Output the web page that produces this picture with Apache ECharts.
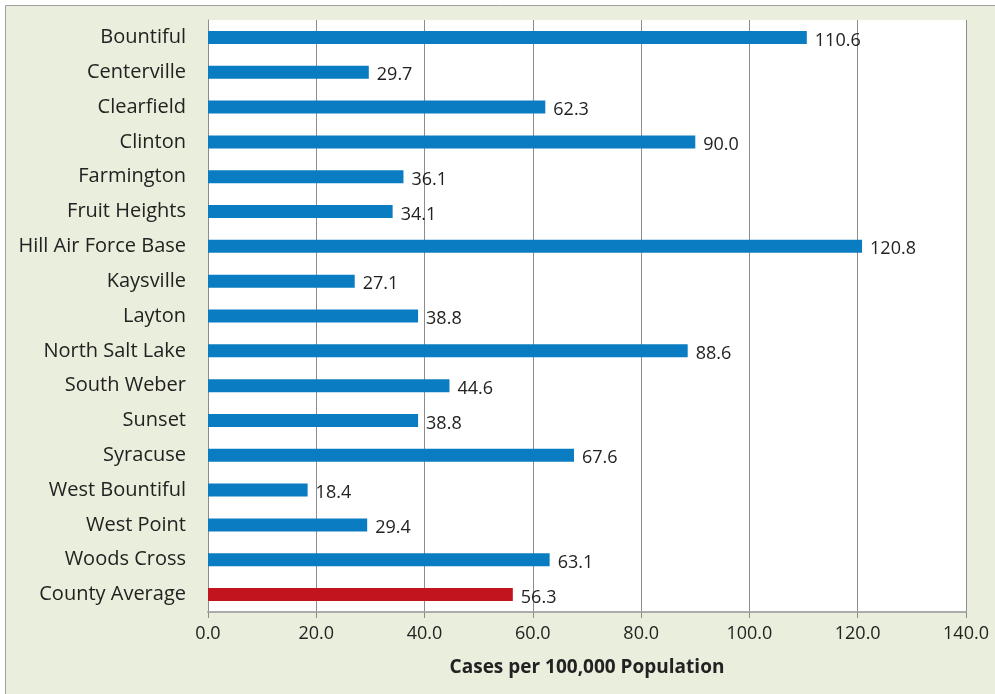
<!DOCTYPE html>
<html><head><meta charset="utf-8">
<script src="https://cdn.jsdelivr.net/npm/echarts@6/dist/echarts.min.js"></script>
<style>html,body{margin:0;padding:0;background:#fff}#c{width:995px;height:694px}</style>
</head><body><div id="c"></div>
<script>
const categories = ["Bountiful","Centerville","Clearfield","Clinton","Farmington","Fruit Heights","Hill Air Force Base","Kaysville","Layton","North Salt Lake","South Weber","Sunset","Syracuse","West Bountiful","West Point","Woods Cross","County Average"];
const values = [110.6,29.7,62.3,90.0,36.1,34.1,120.8,27.1,38.8,88.6,44.6,38.8,67.6,18.4,29.4,63.1,56.3];
const xTicks = [0,20,40,60,80,100,120,140];
const axisTitle = "Cases per 100,000 Population";

const FONT = "Open Sans";
const chart = echarts.init(document.getElementById('c'), null, {renderer:'canvas'});
chart.setOption({
  backgroundColor: '#ffffff',
  animation: false,
  graphic: [{
    type: 'rect', z: -10, silent: true,
    shape: {x: 5.5, y: 5.5, width: 1000, height: 700},
    style: {fill: '#EAEEDC', stroke: '#A0A0A0', lineWidth: 1}
  }],
  grid: {left: 208, right: 29, top: 20, bottom: 82, show: true, backgroundColor: '#ffffff', borderWidth: 0},
  xAxis: {
    type: 'value', min: xTicks[0], max: xTicks[xTicks.length-1], interval: 20,
    axisLine: {show: true, lineStyle: {color: '#ABABAB', width: 2}},
    axisTick: {show: true, length: 6, lineStyle: {color: '#8C8C8C'}},
    splitLine: {show: true, lineStyle: {color: '#8C8C8C', width: 1}},
    axisLabel: {formatter: v => v.toFixed(1), color: '#222', fontSize: 18, fontFamily: FONT, margin: 13},
    name: axisTitle, nameLocation: 'middle', nameGap: 46,
    nameTextStyle: {color: '#222', fontSize: 19, fontWeight: 'bold', fontFamily: FONT}
  },
  yAxis: {
    type: 'category', data: categories, inverse: true,
    axisLine: {show: true, lineStyle: {color: '#8C8C8C', width: 1}},
    axisTick: {show: false},
    axisLabel: {color: '#222', fontSize: 20, fontFamily: FONT, margin: 22}
  },
  series: [{
    type: 'bar', barWidth: 13,
    data: values.map((v, i) => ({value: v, itemStyle: {color: i === values.length - 1 ? '#C1141F' : '#0A7CC1'}})),
    label: {show: true, position: 'right', distance: 8, formatter: p => p.value.toFixed(1),
      color: '#222', fontSize: 18, fontFamily: FONT, offset: [0, 3]}
  }]
});
</script></body></html>
